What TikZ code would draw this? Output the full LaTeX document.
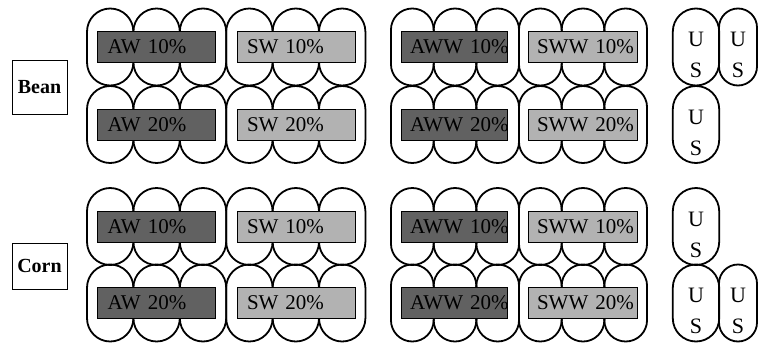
\documentclass[tikz,border=0pt]{standalone}
\usepackage{fontspec}
\setmainfont{Liberation Serif}
\usepackage{tikz}
\tikzset{
    pill/.style={
        rectangle, rounded corners=23.2pt, minimum width=46.4pt, minimum height=77pt,
        inner sep=0pt, draw=black, line width=1.8pt
    },
    pill_narrow/.style={
        pill, rounded corners=21.3pt, minimum width=42.7pt
    },
    pill_edge/.style={
        pill, rounded corners=19pt, minimum width=38pt
    },
    bar_dark/.style={
        rectangle, minimum height=31pt, inner ysep=0pt, inner xsep=10pt, align=left,
        draw=black, line width=0.7pt, fill=black!62, font=\fontsize{21}{21}\selectfont
    },
    bar_light/.style={
        bar_dark, fill=black!30
    },
    crop/.style={
        rectangle, draw=black, line width=0.8pt, minimum width=55pt, inner sep=0pt,
        font=\fontsize{20}{20}\selectfont\bfseries
    },
    letter/.style={
        inner sep=0pt, font=\fontsize{22}{22}\selectfont
    }
}

\begin{document}
\begin{tikzpicture}[x=1pt, y=-1pt]
    \useasboundingbox (0,0) rectangle (758,343);

    \node[crop, minimum height=54pt] (bean) at (39.5, 87) {Bean};
    \node[crop, minimum height=46pt] (corn) at (39.5, 266) {Corn};

    % plots of the AW / SW group
    \foreach \x [count=\i] in {110.2, 156.6, 203.0, 249.4, 295.8, 342.2}
        \foreach \y [count=\j] in {47, 124.5, 226.5, 303}
            \node[pill] (a\i-\j) at (\x, \y) {};

    % plots of the AWW / SWW group
    \foreach \x [count=\i] in {412.3, 455.0, 497.7, 540.3, 583.0, 625.7}
        \foreach \y [count=\j] in {47, 124.5, 226.5, 303}
            \node[pill_narrow] (w\i-\j) at (\x, \y) {};

    % untreated plots
    \node[pill] (us1) at (696, 47) {};
    \node[pill_edge] (us2) at (738, 47) {};
    \node[pill] (us3) at (696, 124.5) {};
    \node[pill] (us4) at (696, 226.5) {};
    \node[pill] (us5) at (696, 303) {};
    \node[pill_edge] (us6) at (738, 303) {};
    \foreach \p in {us1, us2, us3, us4, us5, us6} {
        \node[letter] (\p-u) at ([yshift=7.5pt]\p.center) {U};
        \node[letter] (\p-s) at ([yshift=-23.5pt]\p.center) {S};
    }

    \foreach \y/\pct [count=\j] in {47/10, 124.5/20, 226.5/10, 303/20} {
        \node[bar_dark, text width=97pt, inner xsep=10.5pt] (aw\j) at (156, \y) {\mbox{AW \pct\%}};
        \node[bar_light, text width=98pt] (sw\j) at (296, \y) {\mbox{SW \pct\%}};
        \node[bar_dark, text width=88pt, inner xsep=9pt] (aww\j) at (454, \y) {\mbox{AWW \pct\%}};
        \node[bar_light, text width=91pt, inner xsep=9pt] (sww\j) at (582.5, \y) {\mbox{SWW \pct\%}};
    }
\end{tikzpicture}
\end{document}
